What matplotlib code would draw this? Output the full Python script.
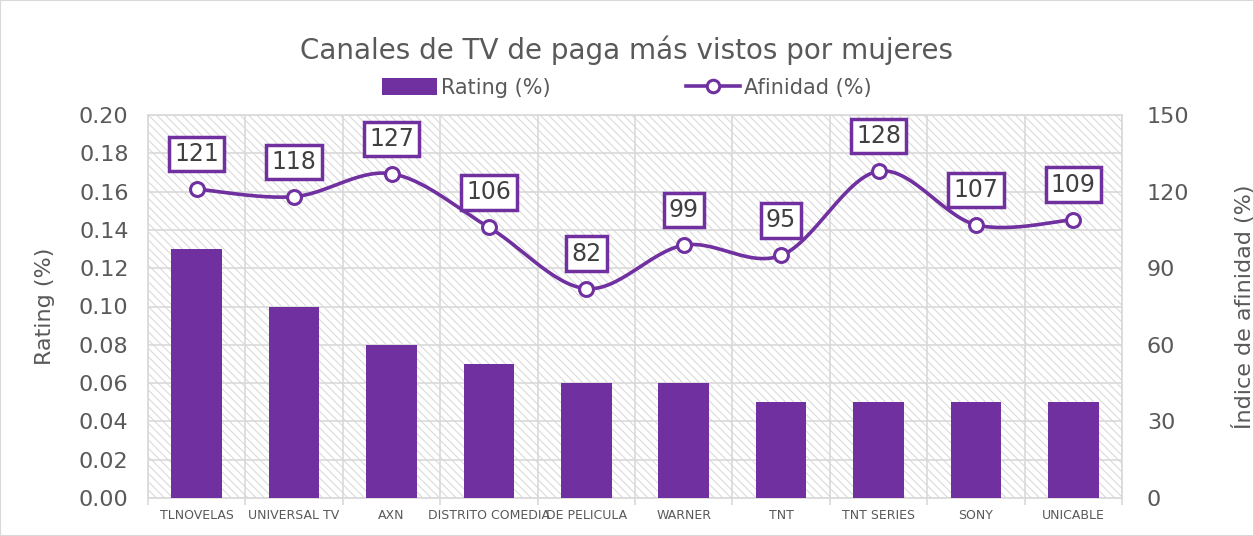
#!/usr/bin/env python3

import numpy as np
import matplotlib
matplotlib.use("Agg")
import matplotlib.pyplot as plt
import matplotlib.ticker as ticker
from matplotlib.patches import Patch, Rectangle
from matplotlib.lines import Line2D

canales = [
    "TLNOVELAS", "UNIVERSAL TV", "AXN", "DISTRITO COMEDIA", "DE PELICULA",
    "WARNER", "TNT", "TNT SERIES", "SONY", "UNICABLE",
]
rating = [0.13, 0.10, 0.08, 0.07, 0.06, 0.06, 0.05, 0.05, 0.05, 0.05]
afinidad = [121, 118, 127, 106, 82, 99, 95, 128, 107, 109]

left_ticks = [0.00, 0.02, 0.04, 0.06, 0.08, 0.10, 0.12, 0.14, 0.16, 0.18, 0.20]
right_ticks = [0, 30, 60, 90, 120, 150]

PURPLE = "#7030A0"
GRAY_TXT = "#595959"
GRID = "#D9D9D9"

plt.rcParams["font.family"] = ["DejaVu Sans"]
plt.rcParams["hatch.linewidth"] = 0.7


def smooth(xs, ys, n=30):
    # uniform catmull-rom, same look as the "smoothed line" option in Excel
    px = np.concatenate([[xs[0]], xs, [xs[-1]]])
    py = np.concatenate([[ys[0]], ys, [ys[-1]]])
    outx, outy = [], []
    for i in range(1, len(px) - 2):
        t = np.linspace(0, 1, n, endpoint=False)
        for p, out in ((px, outx), (py, outy)):
            p0, p1, p2, p3 = p[i - 1], p[i], p[i + 1], p[i + 2]
            out.extend(
                0.5 * (2 * p1 + (-p0 + p2) * t
                       + (2 * p0 - 5 * p1 + 4 * p2 - p3) * t ** 2
                       + (-p0 + 3 * p1 - 3 * p2 + p3) * t ** 3)
            )
    outx.append(xs[-1])
    outy.append(ys[-1])
    return outx, outy


fig = plt.figure(figsize=(12.54, 5.36), dpi=100)
ax = fig.add_axes([148 / 1254, 1 - 498 / 536, (1122 - 148) / 1254, (498 - 115) / 536])

x = np.arange(len(canales))

# hatched plot area
ax.add_patch(Rectangle((0, 0), 1, 1, transform=ax.transAxes, fill=False,
                       hatch="\\\\\\\\", edgecolor="#D6D6D6", linewidth=0, zorder=0.2))
ax.bar(x, rating, width=0.52, color=PURPLE, zorder=3)

ax.set_xlim(-0.5, len(canales) - 0.5)
ax.set_ylim(0, 0.20)
ax.set_yticks(left_ticks)
ax.yaxis.set_major_formatter(ticker.FormatStrFormatter("%.2f"))
ax.set_xticks(x)
ax.set_xticklabels(canales, fontsize=9, color=GRAY_TXT)
ax.set_xticks(np.arange(-0.5, len(canales)), minor=True)
ax.tick_params(axis="x", which="major", length=0, pad=8)
ax.tick_params(axis="x", which="minor", length=5, color=GRID, width=1.2)
ax.tick_params(axis="y", length=0, labelsize=16, labelcolor=GRAY_TXT, pad=14)
ax.set_axisbelow(True)
ax.grid(axis="y", color=GRID, linewidth=1.2)
ax.grid(axis="x", which="minor", color=GRID, linewidth=1.2)
for s in ax.spines.values():
    s.set_color(GRID)
    s.set_linewidth(1.2)
ax.set_ylabel("Rating (%)", fontsize=16, color=GRAY_TXT)
ax.yaxis.set_label_coords((55 - 148) / 974, 0.5)

ax2 = ax.twinx()
ax2.set_ylim(0, 150)
ax2.set_yticks(right_ticks)
ax2.tick_params(axis="y", length=0, labelsize=16, labelcolor=GRAY_TXT, pad=18)
for s in ax2.spines.values():
    s.set_visible(False)
ax2.set_ylabel("Índice de afinidad (%)", fontsize=16, color=GRAY_TXT)
ax2.yaxis.set_label_coords((1232 - 148) / 974, 0.5)

sx, sy = smooth(x.astype(float), np.array(afinidad, dtype=float))
ax2.plot(sx, sy, color=PURPLE, linewidth=2.6, zorder=4, solid_capstyle="round")
ax2.plot(x, afinidad, linestyle="none", marker="o", markersize=10,
         markerfacecolor="white", markeredgecolor=PURPLE, markeredgewidth=2.2, zorder=5)
for xi, v in zip(x, afinidad):
    ax2.annotate(str(v), (xi, v), xytext=(0, 35), textcoords="offset pixels",
                 ha="center", va="center", fontsize=17, color="#404040", zorder=6,
                 bbox=dict(boxstyle="square,pad=0.22", fc="white", ec=PURPLE, lw=2.5))

fig.text(0.5, 1 - 50 / 536, "Canales de TV de paga más vistos por mujeres",
         ha="center", va="center", fontsize=20, color=GRAY_TXT)

handles = [
    Patch(facecolor=PURPLE, edgecolor="none"),
    Line2D([0], [0], color=PURPLE, linewidth=2.6, marker="o", markersize=9,
           markerfacecolor="white", markeredgecolor=PURPLE, markeredgewidth=2.2),
]
fig.legend(handles, ["Rating (%)", "Afinidad (%)"], loc="center",
           bbox_to_anchor=(0.5, 1 - 88 / 536), ncol=2, frameon=False,
           fontsize=15, labelcolor=GRAY_TXT, handlelength=2.6, handleheight=0.9,
           handletextpad=0.2, columnspacing=6.5)

fig.patches.append(Rectangle((0, 0), 1, 1, transform=fig.transFigure, fill=False,
                             edgecolor=GRID, linewidth=1.5))

fig.savefig("out.png", dpi=100)
